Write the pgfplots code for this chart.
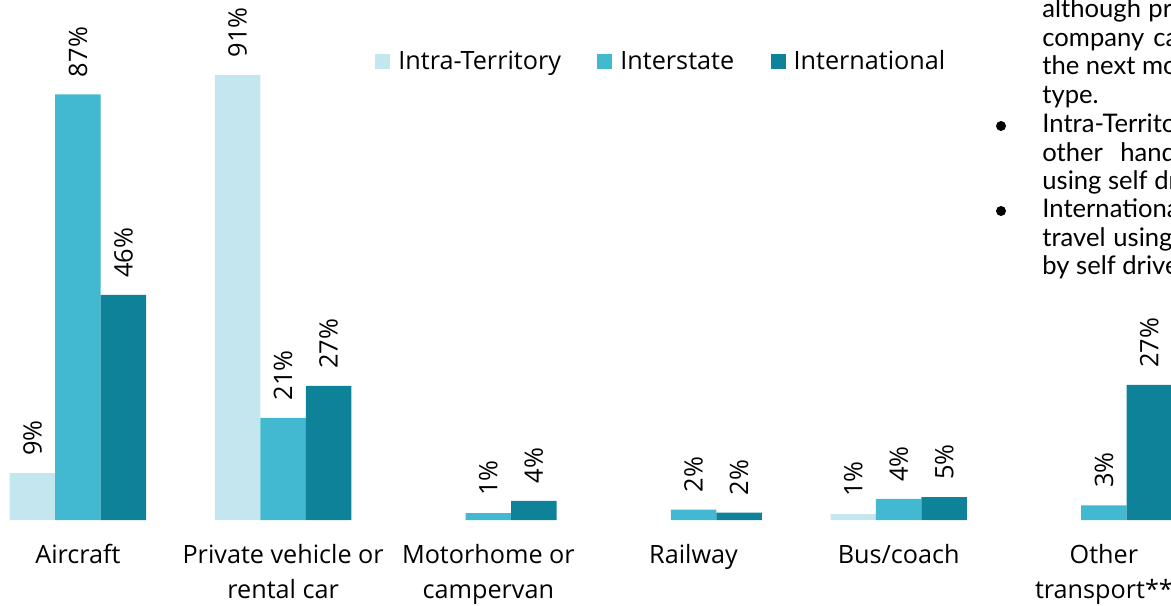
\documentclass[border=0pt]{standalone}
\usepackage{pgfplots}
\pgfplotsset{compat=1.18}
\usepackage{fontspec}
\setmainfont{Open Sans}
\newfontfamily\parafont{Lato}
\definecolor{cIntra}{HTML}{C3E6EF}
\definecolor{cInter}{HTML}{42B9D1}
\definecolor{cIntl}{HTML}{0E8299}
\begin{document}
\begin{tikzpicture}
\clip (0,-42.5pt) rectangle (585.5pt,260pt);
\begin{axis}[
  at={(0,0)}, anchor=south west,
  scale only axis, width=585.5pt, height=260pt,
  xmin=-0.380, xmax=5.327, ymin=0, ymax=106.3,
  axis x line*=bottom,
  x axis line style={draw=none},
  hide y axis,
  ybar, bar width=0.2217,
  xtick={0,1,2,3,4,5},
  xticklabels={Aircraft,{Private vehicle or\\rental car},{Motorhome or\\campervan},Railway,Bus/coach,{Other\\transport**}},
  xticklabel style={align=center, font=\fontsize{12.6}{17.5}\selectfont, yshift=-8.5pt},
  xtick style={draw=none}, major tick length=0pt,
  /pgf/number format/assume math mode=true,
  point meta=explicit,
  nodes near coords={\pgfmathprintnumber{\pgfplotspointmeta}\%},
  every node near coord/.append style={rotate=90, anchor=west, inner xsep=8.5pt, inner ysep=0pt, font=\fontsize{12.7}{14}\selectfont, text=black},
  legend columns=3,
  legend style={at={(0.3202,0.8810)}, anchor=west, draw=none, fill=none, inner sep=0pt,
    font=\fontsize{12.6}{14}\selectfont,
    nodes={inner xsep=4pt},
    /tikz/every even column/.append style={column sep=14.2pt}},
  legend image code/.code={\fill[#1] (0pt,-3.75pt) rectangle (7.5pt,3.75pt);},
]
\addplot[fill=cIntra, draw=none, bar shift=-0.2217] table[x=x,y=y,meta=l] {
x y l
0 9.6 9
1 91 91
4 1.2 1
};
\addplot[fill=cInter, draw=none, bar shift=0] table[x=x,y=y,meta=l] {
x y l
0 87 87
1 20.9 21
2 1.4 1
3 2.1 2
4 4.3 4
5 3 3
};
\addplot[fill=cIntl, draw=none, bar shift=0.2217] table[x=x,y=y,meta=l] {
x y l
0 46 46
1 27.4 27
2 3.9 4
3 1.5 2
4 4.7 5
5 27.6 27
};
\legend{Intra-Territory, Interstate, International}
\end{axis}
\begin{scope}[x=0.5pt, y=-0.5pt, shift={(0,260pt)}, every node/.style={anchor=base west, inner sep=0pt, font=\parafont\fontsize{12.8}{14}\selectfont}]
\node at (1042,18) {although};
\node at (1148,18) {private vehicle};
\node at (1042,46.5) {company};
\node at (1153,46.5) {cars were};
\node at (1042,75) {the next most common};
\node at (1042,103.5) {type.};
\fill (1001,126) circle (5);
\node at (1042,133) {Intra-Territory travellers on the};
\node at (1042,161.5) {other};
\node at (1120,161.5) {hand, were};
\node at (1042,190) {using self drive};
\fill (1001,211) circle (5);
\node at (1042,218) {International visitors};
\node at (1042,247) {travel};
\node at (1113,247) {using};
\node at (1042,275) {by self drive};
\end{scope}
\end{tikzpicture}
\end{document}
